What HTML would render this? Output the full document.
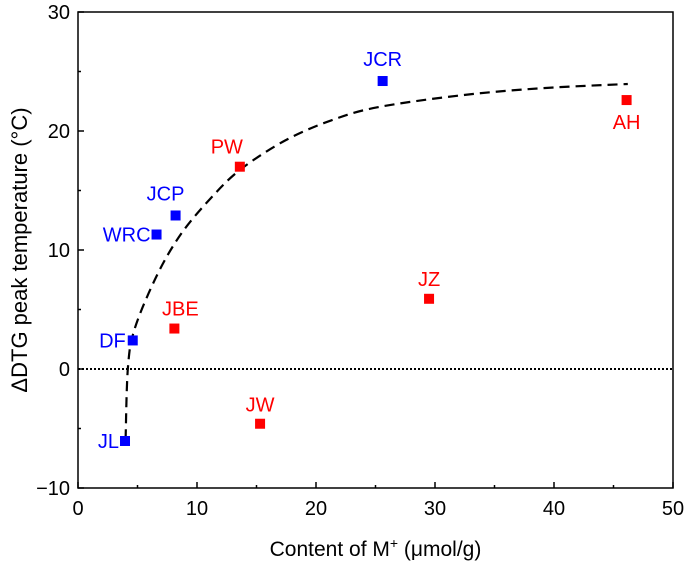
<!DOCTYPE html>
<html><head><meta charset="utf-8"><style>
body{margin:0;background:#fff}
svg{font-family:"Liberation Sans",Arial,sans-serif;display:block}
</style></head><body>
<svg id="chart" width="685" height="566"></svg>
<script>
const names=["JL","DF","WRC","JCP","JCR","PW","JBE","JW","JZ","AH"];
const xVals=[3.95,4.6,6.6,8.2,25.6,13.6,8.1,15.3,29.5,46.1];
const yVals=[-6.05,2.4,11.3,12.9,24.2,17.0,3.4,-4.6,5.9,22.6];
const groups=["b","b","b","b","b","r","r","r","r","r"];
const fitX=[4.0,4.2,4.8,6.7,8.7,11.2,13.7,17.4,21.3,25.2,32.2,39,46.2];
const fitY=[-5.9,0.2,3.5,8.0,11.4,14.4,16.8,19.2,20.9,22.0,23.0,23.6,23.95];
const xTicks=[0,10,20,30,40,50];
const yTicks=[-10,0,10,20,30];
const NS="http://www.w3.org/2000/svg";
const svg=document.getElementById('chart');
const X0=78,X1=673,Y0=488,Y1=12;
const sx=v=>X0+(v-0)/50*(X1-X0);
const sy=v=>Y0-(v+10)/40*(Y0-Y1);
function mk(t,a,p){const e=document.createElementNS(NS,t);for(const k in a)e.setAttribute(k,a[k]);(p||svg).appendChild(e);return e;}
let fr=mk('rect',{x:X0,y:Y1,width:X1-X0,height:Y0-Y1,fill:'none',stroke:'#000','stroke-width':1.5});


xTicks.forEach(v=>{
  const l=mk('line',{x1:sx(v),x2:sx(v),y1:Y0,y2:Y0-6,stroke:'#000','stroke-width':1.5});
  
  
  const t=mk('text',{x:sx(v),y:Y0+27,'text-anchor':'middle','font-size':20});
  t.textContent=v;
  
  
});
for(let v=5;v<50;v+=10){const l=mk('line',{x1:sx(v),x2:sx(v),y1:Y0,y2:Y0-3,stroke:'#000','stroke-width':1.5});
  
  }
yTicks.forEach(v=>{
  const l=mk('line',{x1:X0,x2:X0+6,y1:sy(v),y2:sy(v),stroke:'#000','stroke-width':1.5});
  
  
  const t=mk('text',{x:X0-8,y:sy(v)+7,'text-anchor':'end','font-size':20});
  t.textContent=v<0?'\u2212'+(-v):v;
  
  
});
for(let v=-5;v<30;v+=10){const l=mk('line',{x1:X0,x2:X0+3,y1:sy(v),y2:sy(v),stroke:'#000','stroke-width':1.5});
  
  }
let z=mk('line',{x1:X0,x2:X1,y1:sy(0),y2:sy(0),stroke:'#000','stroke-width':2,'stroke-dasharray':'2,2'});


// smooth fit curve (Catmull-Rom)
const P=fitX.map((x,i)=>[sx(x),sy(fitY[i])]);
let d='M'+P[0][0].toFixed(1)+','+P[0][1].toFixed(1);
for(let i=0;i<P.length-1;i++){
  const p0=P[Math.max(0,i-1)],p1=P[i],p2=P[i+1],p3=P[Math.min(P.length-1,i+2)];
  const c1=[p1[0]+(p2[0]-p0[0])/6,p1[1]+(p2[1]-p0[1])/6];
  const c2=[p2[0]-(p3[0]-p1[0])/6,p2[1]-(p3[1]-p1[1])/6];
  d+=' C'+c1.map(n=>n.toFixed(1)).join(',')+' '+c2.map(n=>n.toFixed(1)).join(',')+' '+p2.map(n=>n.toFixed(1)).join(',');
}
let c=mk('path',{d:d,fill:'none',stroke:'#000','stroke-width':2.2,'stroke-dasharray':'10,6'});


const lab={JL:[-4,7,'end'],DF:[-5,7,'end'],WRC:[-4,7,'end'],JCP:[-10,-15,'middle'],JCR:[0,-15,'middle'],PW:[-13,-13,'middle'],JBE:[6,-13,'middle'],JW:[0,-12,'middle'],JZ:[0,-13,'middle'],AH:[0,29,'middle']};
names.forEach((n,i)=>{
  const col=groups[i]=='b'?'#0000ff':'#ff0000';
  const px=sx(xVals[i]),py=sy(yVals[i]);
  const r=mk('rect',{x:px-5,y:py-5,width:10,height:10,fill:col});
  
  
  const o=lab[n];
  const t=mk('text',{x:px+o[0]+(o[2]=='end'?-2:0),y:py+o[1],'text-anchor':o[2],'font-size':20,fill:col});
  t.textContent=n;
  
  
});
let xt=mk('text',{x:(X0+X1)/2,y:556,'text-anchor':'middle','font-size':21});
xt.innerHTML='Content of M<tspan dy="-8" font-size="14">+</tspan><tspan dy="8"> (\u03bcmol/g)</tspan>';


let yt=mk('text',{x:0,y:0,'text-anchor':'middle','font-size':22,transform:'translate(27,'+((Y0+Y1)/2)+') rotate(-90)'});
yt.textContent='\u0394DTG peak temperature (\u00b0C)';


</script>
</body></html>
